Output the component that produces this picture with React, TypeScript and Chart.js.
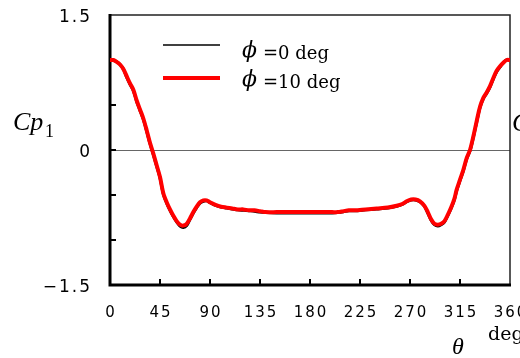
import React, { useEffect, useRef } from "react";
import { Chart, registerables } from "chart.js";

Chart.register(...registerables);

const thetaDeg = [0, 3, 6, 9, 12, 15, 18, 21, 24, 27, 30, 33, 36, 39, 42, 45, 48, 51, 54, 57, 60, 63, 66, 69, 72, 75, 78, 81, 84, 87, 90, 95, 100, 105, 110, 115, 120, 125, 130, 135, 140, 150, 160, 170, 180, 190, 200, 205, 210, 215, 220, 230, 240, 250, 258, 263, 267, 271, 275, 279, 283, 286, 289, 292, 295, 298, 301, 304, 307, 310, 312, 315, 318, 321, 324, 327, 330, 333, 336, 339, 342, 345, 348, 351, 354, 357, 360];

const cpPhi10 = [1.0, 1.0, 0.98, 0.95, 0.9, 0.82, 0.74, 0.67, 0.55, 0.45, 0.35, 0.22, 0.08, -0.04, -0.17, -0.3, -0.48, -0.58, -0.66, -0.73, -0.79, -0.83, -0.84, -0.82, -0.76, -0.69, -0.63, -0.58, -0.56, -0.56, -0.58, -0.61, -0.63, -0.64, -0.65, -0.66, -0.66, -0.67, -0.67, -0.68, -0.69, -0.69, -0.69, -0.69, -0.69, -0.69, -0.69, -0.69, -0.68, -0.67, -0.67, -0.66, -0.65, -0.64, -0.62, -0.6, -0.57, -0.55, -0.55, -0.57, -0.62, -0.69, -0.77, -0.82, -0.83, -0.82, -0.79, -0.72, -0.64, -0.54, -0.44, -0.33, -0.22, -0.09, 0.0, 0.15, 0.32, 0.48, 0.58, 0.64, 0.71, 0.8, 0.88, 0.93, 0.97, 1.0, 1.0];

const cpPhi0 = [1.0, 1.0, 0.98, 0.95, 0.9, 0.81, 0.73, 0.66, 0.54, 0.44, 0.34, 0.21, 0.07, -0.05, -0.18, -0.31, -0.49, -0.59, -0.67, -0.74, -0.8, -0.845, -0.86, -0.84, -0.77, -0.7, -0.64, -0.59, -0.57, -0.565, -0.585, -0.615, -0.635, -0.645, -0.655, -0.665, -0.67, -0.675, -0.68, -0.69, -0.695, -0.7, -0.7, -0.7, -0.7, -0.7, -0.7, -0.695, -0.685, -0.675, -0.675, -0.665, -0.655, -0.645, -0.625, -0.605, -0.575, -0.555, -0.555, -0.575, -0.625, -0.7, -0.78, -0.83, -0.845, -0.83, -0.8, -0.73, -0.65, -0.55, -0.45, -0.34, -0.23, -0.1, -0.01, 0.14, 0.31, 0.47, 0.57, 0.63, 0.7, 0.79, 0.87, 0.92, 0.97, 1.0, 1.0];

const seriesLabels = ["ϕ =0 deg", "ϕ =10 deg"];
const seriesColors = ["#000000", "#ff0000"];
const xTickValues = [0, 45, 90, 135, 180, 225, 270, 315, 360];
const yLabelValues = [-1.5, 0, 1.5];
const yLabelTexts = ["\u22121.5", "0", "1.5"];
const yTitle = "Cp";
const yTitleSub = "1";
const xTitleSymbol = "θ";
const xTitleUnit = "deg";

const decorPlugin = {
  id: "decor",
  beforeDatasetsDraw(chart: any) {
    const { ctx, chartArea } = chart;
    const { left, right, top, bottom } = chartArea;
    const xs = chart.scales.x;
    const ys = chart.scales.y;
    ctx.save();
    ctx.strokeStyle = "#000";
    // inward ticks
    ctx.lineWidth = 2;
    ys.ticks.forEach((t: any) => {
      if (t.value <= ys.min || t.value >= ys.max) return;
      const p = ys.getPixelForValue(t.value);
      ctx.beginPath();
      ctx.moveTo(left, p);
      ctx.lineTo(left + 6, p);
      ctx.stroke();
    });
    xs.ticks.forEach((t: any) => {
      if (t.value <= xs.min || t.value >= xs.max) return;
      const p = xs.getPixelForValue(t.value);
      ctx.beginPath();
      ctx.moveTo(p, bottom);
      ctx.lineTo(p, bottom - 6);
      ctx.stroke();
    });
    // top & right thin borders
    ctx.lineWidth = 1.5;
    ctx.strokeStyle = "#222";
    ctx.beginPath();
    ctx.moveTo(left, top);
    ctx.lineTo(right, top);
    ctx.lineTo(right, bottom);
    ctx.stroke();
    // left & bottom thick borders
    ctx.lineWidth = 3;
    ctx.strokeStyle = "#000";
    ctx.beginPath();
    ctx.moveTo(left, top - 1);
    ctx.lineTo(left, bottom);
    ctx.lineTo(right + 1, bottom);
    ctx.stroke();
    ctx.restore();
  },
  afterDraw(chart: any) {
    const { ctx, chartArea } = chart;
    const xs = chart.scales.x;
    const ys = chart.scales.y;
    ctx.save();
    ctx.fillStyle = "#000";
    // tick labels with letter spacing
    ctx.letterSpacing = "2px";
    ctx.font = "15px 'DejaVu Sans'";
    ctx.textAlign = "center";
    ctx.textBaseline = "middle";
    xs.ticks.forEach((t: any) => {
      const p = xs.getPixelForValue(t.value);
      ctx.fillText(String(t.value), p + 1, chartArea.bottom + 28);
    });
    ctx.font = "17px 'DejaVu Sans'";
    ctx.textAlign = "right";
    ys.ticks.forEach((t: any) => {
      const idx = yLabelValues.findIndex((y) => Math.abs(y - t.value) < 1e-6);
      if (idx < 0) return;
      const p = ys.getPixelForValue(t.value);
      ctx.fillText(yLabelTexts[idx], chartArea.left - 18, p + 3);
    });
    ctx.letterSpacing = "0px";
    ctx.textAlign = "left";
    ctx.textBaseline = "alphabetic";
    // y title
    ctx.font = "italic 26px 'Liberation Serif'";
    ctx.fillText(yTitle, 13, 130);
    ctx.font = "18px 'Liberation Serif'";
    ctx.fillText(yTitleSub, 45, 137);
    // clipped right title
    ctx.font = "italic 26px 'Liberation Serif'";
    ctx.fillText(yTitle, 512, 131);
    // x title
    ctx.font = "italic 24px 'Liberation Serif'";
    ctx.textAlign = "center";
    ctx.fillText(xTitleSymbol, 458, 354);
    ctx.textAlign = "left";
    ctx.font = "19px 'DejaVu Serif'";
    ctx.fillText(xTitleUnit, 488, 340);
    // legend
    const rows = [
      { y: 45, w: 1.5, tc: 51, tb: 59 },
      { y: 78, w: 4, tc: 80, tb: 88 },
    ];
    chart.data.datasets.forEach((ds: any, i: number) => {
      const r = rows[i];
      ctx.strokeStyle = ds.borderColor;
      ctx.lineWidth = r.w;
      ctx.beginPath();
      ctx.moveTo(163, r.y);
      ctx.lineTo(220, r.y);
      ctx.stroke();
      const sym = ds.label.slice(0, 1);
      const rest = ds.label.slice(2);
      ctx.fillStyle = "#000";
      ctx.font = "italic 22px 'DejaVu Serif'";
      ctx.textBaseline = "middle";
      ctx.fillText(sym, 242, r.tc);
      ctx.textBaseline = "alphabetic";
      ctx.font = "18px 'DejaVu Serif'";
      ctx.fillText(rest, 263, r.tb);
    });
    ctx.restore();
  },
};

export default function App() {
  const ref = useRef<HTMLCanvasElement | null>(null);
  useEffect(() => {
    if (!ref.current) return;
    const mk = (vals: number[]) => thetaDeg.map((t, i) => ({ x: t, y: vals[i] }));
    const chart = new Chart(ref.current, {
      type: "line",
      data: {
        datasets: [
          {
            label: seriesLabels[0],
            data: mk(cpPhi0),
            borderColor: seriesColors[0],
            borderWidth: 3,
            pointRadius: 0,
            tension: 0.3,
            fill: false,
            order: 2,
          },
          {
            label: seriesLabels[1],
            data: mk(cpPhi10),
            borderColor: seriesColors[1],
            borderWidth: 4,
            pointRadius: 0,
            tension: 0.3,
            fill: false,
            order: 1,
          },
        ],
      },
      options: {
        responsive: false,
        animation: false,
        events: [],
        layout: { padding: { left: 0, right: 50, top: 15, bottom: 0 } },
        plugins: { legend: { display: false }, tooltip: { enabled: false } },
        scales: {
          x: {
            type: "linear",
            min: 0,
            max: 360,
            afterFit: (s: any) => {
              s.height = 73;
              s.paddingLeft = 0;
              s.paddingRight = 0;
            },
            afterBuildTicks: (s: any) => { s.ticks = xTickValues.map((v) => ({ value: v })); },
            grid: { display: false, drawTicks: false },
            border: { display: false },
            ticks: { display: false },
          },
          y: {
            type: "linear",
            min: -1.5,
            max: 1.5,
            afterFit: (s: any) => {
              s.width = 110;
              s.paddingTop = 0;
              s.paddingBottom = 0;
            },
            grid: {
              drawTicks: false,
              lineWidth: 1,
              color: (c: any) => (c.tick && c.tick.value === 0 ? "#666" : "rgba(0,0,0,0)"),
            },
            border: { display: false },
            ticks: { display: false, stepSize: 0.5 },
          },
        },
      },
      plugins: [decorPlugin],
    } as any);
    return () => chart.destroy();
  }, []);
  return (
    <div style={{ position: "fixed", left: 0, top: 0, width: 520, height: 358, overflow: "hidden", background: "#fff" }}>
      <canvas ref={ref} width={560} height={358} style={{ display: "block" }} />
    </div>
  );
}
